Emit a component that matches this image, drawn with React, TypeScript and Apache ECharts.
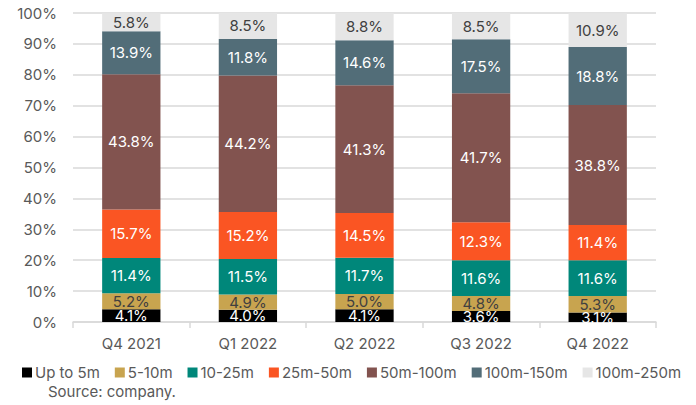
import React, { useEffect, useRef } from "react";
import * as echarts from "echarts";

const categories = ["Q4 2021", "Q1 2022", "Q2 2022", "Q3 2022", "Q4 2022"];
const seriesNames = ["Up to 5m", "5-10m", "10-25m", "25m-50m", "50m-100m", "100m-150m", "100m-250m"];
const upTo5m = [4.1, 4.0, 4.1, 3.6, 3.1];
const s5to10 = [5.2, 4.9, 5.0, 4.8, 5.3];
const s10to25 = [11.4, 11.5, 11.7, 11.6, 11.6];
const s25to50 = [15.7, 15.2, 14.5, 12.3, 11.4];
const s50to100 = [43.8, 44.2, 41.3, 41.7, 38.8];
const s100to150 = [13.9, 11.8, 14.6, 17.5, 18.8];
const s100to250 = [5.8, 8.5, 8.8, 8.5, 10.9];
const yTicks = [0, 10, 20, 30, 40, 50, 60, 70, 80, 90, 100];

const colors = ["#000000", "#C8A44F", "#00877A", "#FA5523", "#82534F", "#526D78", "#E6E6E6"];
const labelColors = ["#ffffff", "#404040", "#ffffff", "#ffffff", "#ffffff", "#ffffff", "#404040"];
const FONT = "Inter";

export default function App() {
  const ref = useRef<HTMLDivElement>(null);
  useEffect(() => {
    const chart = echarts.init(ref.current!, null, { renderer: "svg" });
    const data = [upTo5m, s5to10, s10to25, s25to50, s50to100, s100to150, s100to250];
    chart.setOption({
      animation: false,
      textStyle: { fontFamily: FONT },
      grid: { left: 73, right: 40, top: 13, bottom: 83 },
      legend: {
        data: seriesNames,
        left: 17,
        top: 360,
        itemWidth: 10,
        itemHeight: 10,
        itemGap: 15,
        icon: "rect",
        textStyle: { fontFamily: FONT, fontSize: 15, color: "#595959", padding: [0, 0, 0, -2] },
      },
      xAxis: {
        type: "category",
        data: categories,
        axisLine: { lineStyle: { color: "#D9D9D9", width: 1.5 } },
        axisTick: { show: true, length: 6, lineStyle: { color: "#D9D9D9", width: 1.5 } },
        axisLabel: { fontFamily: FONT, fontSize: 15, color: "#595959", margin: 14 },
      },
      yAxis: {
        type: "value",
        min: yTicks[0],
        max: yTicks[yTicks.length - 1],
        interval: 10,
        axisLine: { show: false },
        axisTick: { show: false },
        splitLine: { lineStyle: { color: "#D9D9D9", width: 1.5 } },
        axisLabel: { fontFamily: FONT, fontSize: 15, color: "#595959", margin: 16, formatter: "{value}%" },
      },
      graphic: [
        {
          type: "text",
          left: 48,
          top: 384,
          style: { text: "Source: company.", font: `15px ${FONT}`, fill: "#595959" },
        },
      ],
      series: seriesNames.map((name, i) => ({
        name,
        type: "bar",
        stack: "total",
        barWidth: "50%",
        data: data[i],
        itemStyle: { color: colors[i] },
        label: {
          show: true,
          position: "inside",
          formatter: (p: any) => p.value.toFixed(1) + "%",
          fontFamily: FONT,
          fontSize: 15,
          color: labelColors[i],
        },
      })),
    });
    return () => chart.dispose();
  }, []);
  return <div ref={ref} style={{ position: "absolute", left: 0, top: 0, width: 696, height: 405 }} />;
}
